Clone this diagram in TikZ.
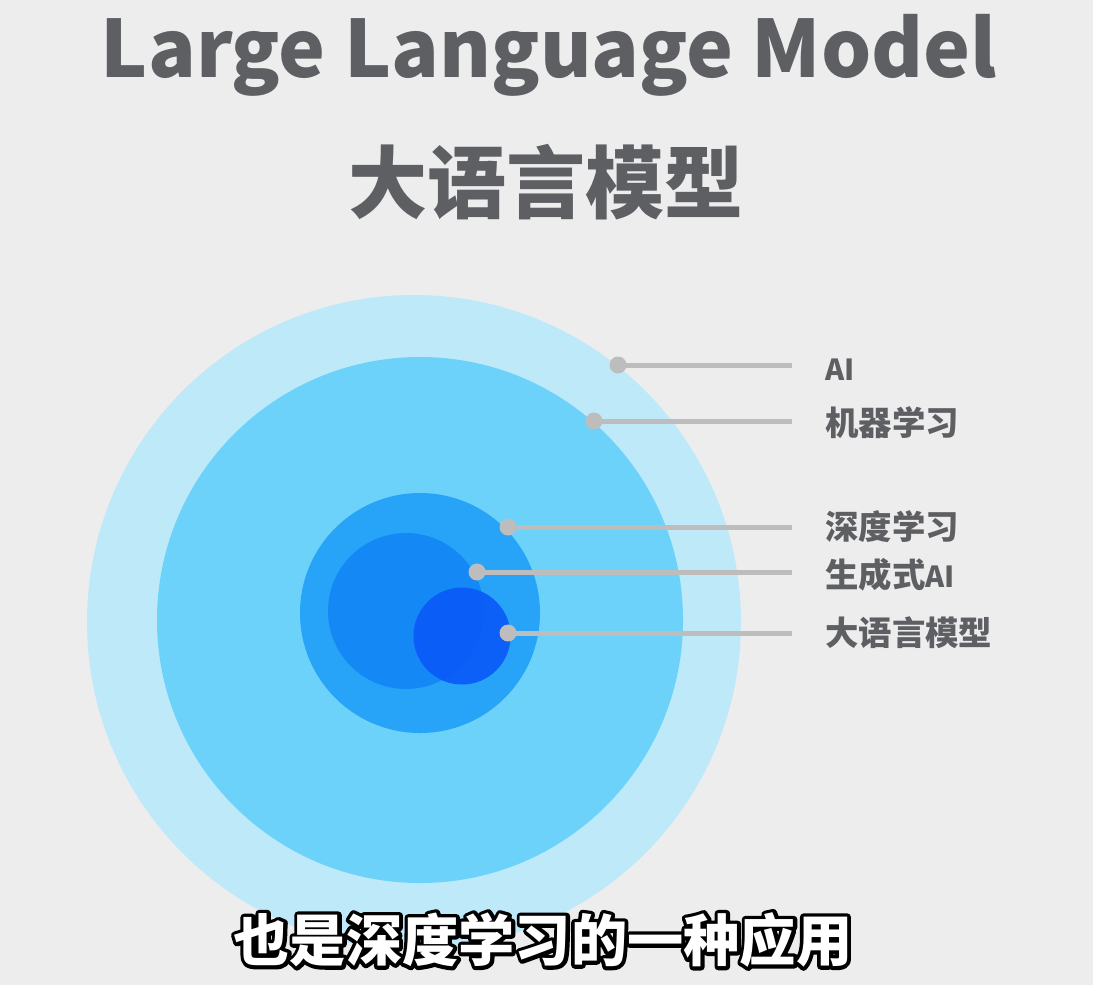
\documentclass[tikz,border=0pt]{standalone}
\usepackage{fontspec}
\setmainfont{Noto Sans CJK SC}
\usepackage{tikz}
\usetikzlibrary{calc}
\usepackage{xcolor}
\definecolor{bggray}{RGB}{237, 237, 238}
\definecolor{ringai}{RGB}{190, 233, 249}
\definecolor{ringml}{RGB}{108, 210, 250}
\definecolor{ringdl}{RGB}{39, 164, 247}
\definecolor{ringgen}{RGB}{20, 137, 246}
\definecolor{ringllm}{RGB}{10, 90, 247}
\definecolor{pingray}{RGB}{189, 189, 190}
\definecolor{txtgray}{RGB}{94, 95, 99}
% obrys tekstu (wypełnienie + kontur)
\newcommand{\strokedtext}[1]{\special{pdf:literal direct q 2 Tr 4.2 w 1 j 0 0 0 RG}#1\special{pdf:literal direct Q}}

\begin{document}
\begin{tikzpicture}[x=0.2mm, y=-0.2mm,
    ring/.style={circle, inner sep=0pt, draw=none},
    pin/.style={circle, fill=pingray, inner sep=0pt, minimum size=3.4mm},
    leader/.style={pingray, line width=1mm, shorten >=6.6mm},
    lbl/.style={anchor=west, inner sep=0pt, text=txtgray, font=\bfseries\fontsize{19}{19}\selectfont},
    capfont/.style={font=\bfseries\fontsize{32}{32}\selectfont}]
    % --- Tło ---
    \fill[bggray] (0,0) rectangle (1093,985);
    \useasboundingbox (0,0) rectangle (1093,985);

    % --- Tytuły ---
    \node[anchor=base, inner sep=0pt, text=txtgray, font=\bfseries\fontsize{45}{45}\selectfont] (title) at (549,77) {Large Language Model};
    \node[inner sep=0pt, text=txtgray, font=\bfseries\fontsize{45}{45}\selectfont] (cntitle) at (546,182) {大语言模型};

    % --- Koła ---
    \node[ring, fill=ringai, minimum size=130.8mm] (ai) at (414,622) {};
    \node[ring, fill=ringml, minimum size=105.2mm] (ml) at (420,620) {};
    \node[ring, fill=ringdl, minimum size=48mm] (dl) at (420,613) {};
    \node[ring, fill=ringgen, minimum size=31.2mm] (gen) at (406,611) {};
    \node[ring, fill=ringllm, fill opacity=0.92, minimum size=19.4mm] (llm) at (462,636) {};

    % --- Kropki ---
    \node[pin] (pai) at (618,365) {};
    \node[pin] (pml) at (594,421) {};
    \node[pin] (pdl) at (508,527) {};
    \node[pin] (pgen) at (477,572) {};
    \node[pin] (pllm) at (508,633) {};

    % --- Etykiety ---
    \node[lbl] (lai) at (825,370) {{\fontsize{16.5}{16.5}\selectfont AI}};
    \node[lbl] (lml) at (825,423) {机器学习};
    \node[lbl] (ldl) at (825,527) {深度学习};
    \node[lbl] (lgen) at (825,575) {生成式{\fontsize{16.5}{16.5}\selectfont AI}};
    \node[lbl] (lllm) at (825,633) {大语言模型};

    % linie od kropek do etykiet
    \foreach \p/\l in {pai/lai, pml/lml, pdl/ldl, pgen/lgen, pllm/lllm}
        \draw[leader] (\p.center) -- (\p.center -| \l.west);

    % --- Napis na dole (z obrysem) ---
    \node[capfont, text=black, inner sep=0pt] (capo) at (543,940) {\strokedtext{也是深度学习的一种应用}};
    \node[capfont, text=white, inner sep=0pt] (caption) at (543,940) {也是深度学习的一种应用};
\end{tikzpicture}
\end{document}
